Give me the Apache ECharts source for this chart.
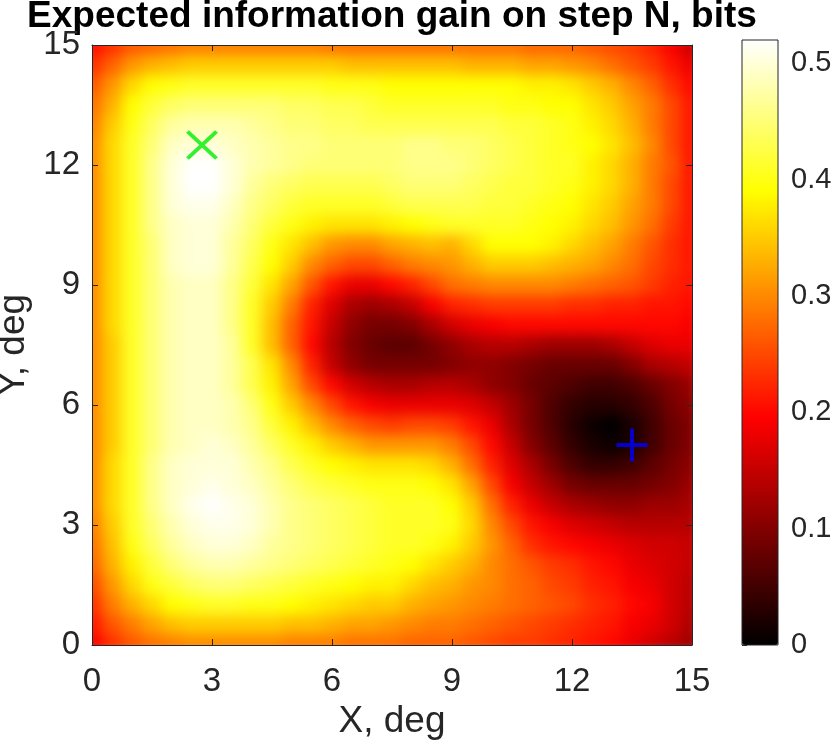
<!DOCTYPE html>
<html>
<head>
<meta charset="utf-8">
<title>Expected information gain</title>
<script src="https://cdn.jsdelivr.net/npm/echarts@6/dist/echarts.min.js"></script>
<style>
	html, body { margin: 0; padding: 0; background: #fff; }
	#chart { width: 836px; height: 746px; }
</style>
</head>
<body>
<div id="chart"></div>
<script>
	// grid nodes, 0..15 deg every 0.5 deg
	var xCats = [];
	var yCats = [];
	for (var k = 0; k <= 30; k++) {
		xCats.push(String(k / 2));
		yCats.push(String(k / 2));
	}

	// expected gain, bits. one row per Y, from Y=15 (top) down to Y=0; columns X=0..15
	var gainRows = [
		[0.20,0.23,0.26,0.27,0.28, 0.29,0.29,0.29,0.29,0.29, 0.29,0.29,0.28,0.28,0.28, 0.28,0.28,0.28,0.28,0.28, 0.28,0.28,0.27,0.27,0.27, 0.26,0.25,0.24,0.22,0.19, 0.15], // 15
		[0.23,0.27,0.31,0.33,0.34, 0.35,0.35,0.35,0.35,0.35, 0.35,0.35,0.35,0.34,0.34, 0.34,0.34,0.34,0.34,0.33, 0.33,0.33,0.32,0.32,0.31, 0.30,0.28,0.26,0.24,0.21, 0.18], // 14.5
		[0.26,0.31,0.36,0.39,0.40, 0.41,0.41,0.41,0.41,0.41, 0.41,0.41,0.40,0.40,0.40, 0.39,0.39,0.39,0.39,0.39, 0.39,0.39,0.38,0.38,0.37, 0.35,0.33,0.30,0.27,0.23, 0.20], // 14
		[0.28,0.33,0.39,0.42,0.44, 0.45,0.45,0.45,0.45,0.45, 0.44,0.44,0.43,0.43,0.42, 0.41,0.41,0.41,0.41,0.41, 0.41,0.40,0.40,0.39,0.39, 0.37,0.35,0.32,0.29,0.25, 0.21], // 13.5
		[0.29,0.35,0.40,0.44,0.47, 0.48,0.48,0.48,0.47,0.46, 0.45,0.45,0.44,0.44,0.43, 0.43,0.43,0.43,0.43,0.43, 0.43,0.42,0.42,0.41,0.40, 0.38,0.36,0.33,0.29,0.25, 0.21], // 13
		[0.30,0.36,0.41,0.45,0.49, 0.50,0.50,0.49,0.48,0.47, 0.46,0.46,0.45,0.45,0.45, 0.45,0.46,0.46,0.45,0.45, 0.44,0.43,0.42,0.41,0.40, 0.39,0.37,0.34,0.30,0.25, 0.21], // 12.5
		[0.30,0.36,0.41,0.46,0.50, 0.52,0.52,0.50,0.48,0.47, 0.46,0.45,0.45,0.45,0.45, 0.45,0.46,0.46,0.46,0.45, 0.44,0.43,0.42,0.41,0.41, 0.38,0.36,0.33,0.29,0.26, 0.21], // 12
		[0.30,0.36,0.41,0.46,0.50, 0.52,0.52,0.50,0.47,0.45, 0.44,0.43,0.43,0.43,0.43, 0.44,0.45,0.45,0.45,0.44, 0.43,0.42,0.42,0.41,0.40, 0.38,0.36,0.33,0.29,0.25, 0.21], // 11.5
		[0.30,0.36,0.41,0.46,0.50, 0.51,0.51,0.49,0.46,0.44, 0.42,0.41,0.41,0.41,0.41, 0.42,0.43,0.43,0.43,0.43, 0.42,0.42,0.41,0.40,0.39, 0.37,0.35,0.32,0.29,0.25, 0.21], // 11
		[0.30,0.36,0.41,0.46,0.49, 0.50,0.50,0.48,0.45,0.42, 0.40,0.38,0.37,0.37,0.37, 0.38,0.39,0.40,0.41,0.41, 0.41,0.41,0.40,0.39,0.38, 0.36,0.34,0.31,0.28,0.24, 0.21], // 10.5
		[0.30,0.36,0.41,0.45,0.49, 0.50,0.50,0.47,0.44,0.40, 0.37,0.34,0.31,0.30,0.30, 0.32,0.33,0.34,0.33,0.36, 0.39,0.39,0.39,0.38,0.36, 0.34,0.32,0.29,0.26,0.23, 0.21], // 10
		[0.30,0.36,0.41,0.45,0.49, 0.50,0.50,0.47,0.43,0.39, 0.35,0.30,0.27,0.25,0.25, 0.27,0.29,0.30,0.31,0.33, 0.35,0.35,0.35,0.34,0.33, 0.32,0.30,0.28,0.25,0.23, 0.21], // 9.5
		[0.30,0.36,0.41,0.45,0.48, 0.49,0.49,0.46,0.42,0.37, 0.32,0.26,0.21,0.18,0.18, 0.20,0.22,0.25,0.28,0.29, 0.30,0.30,0.30,0.30,0.29, 0.28,0.27,0.26,0.24,0.22, 0.21], // 9
		[0.30,0.36,0.41,0.45,0.48, 0.49,0.49,0.46,0.41,0.35, 0.29,0.22,0.17,0.13,0.12, 0.13,0.15,0.19,0.22,0.23, 0.24,0.24,0.24,0.24,0.23, 0.23,0.22,0.22,0.21,0.21, 0.20], // 8.5
		[0.30,0.36,0.41,0.45,0.48, 0.49,0.49,0.46,0.41,0.34, 0.27,0.21,0.15,0.11,0.09, 0.09,0.10,0.13,0.16,0.18, 0.19,0.20,0.20,0.20,0.20, 0.20,0.20,0.20,0.20,0.20, 0.19], // 8
		[0.30,0.35,0.41,0.45,0.48, 0.49,0.49,0.47,0.41,0.34, 0.27,0.20,0.14,0.10,0.08, 0.07,0.07,0.09,0.11,0.13, 0.14,0.14,0.13,0.12,0.12, 0.12,0.13,0.15,0.17,0.18, 0.18], // 7.5
		[0.30,0.35,0.41,0.45,0.48, 0.49,0.49,0.47,0.43,0.37, 0.30,0.22,0.15,0.11,0.09, 0.09,0.09,0.09,0.10,0.11, 0.11,0.10,0.09,0.08,0.08, 0.08,0.08,0.10,0.13,0.14, 0.15], // 7
		[0.30,0.35,0.41,0.45,0.48, 0.49,0.49,0.47,0.43,0.38, 0.32,0.25,0.20,0.16,0.14, 0.13,0.13,0.14,0.14,0.13, 0.11,0.10,0.08,0.07,0.06, 0.05,0.05,0.06,0.08,0.10, 0.12], // 6.5
		[0.30,0.35,0.41,0.45,0.48, 0.49,0.49,0.48,0.45,0.40, 0.35,0.30,0.25,0.21,0.19, 0.18,0.18,0.18,0.18,0.17, 0.15,0.12,0.09,0.06,0.04, 0.03,0.03,0.04,0.06,0.09, 0.11], // 6
		[0.30,0.35,0.41,0.45,0.48, 0.49,0.49,0.48,0.46,0.42, 0.38,0.34,0.30,0.27,0.25, 0.24,0.25,0.25,0.24,0.21, 0.18,0.13,0.09,0.06,0.03, 0.01,0.00,0.02,0.05,0.08, 0.10], // 5.5
		[0.30,0.35,0.41,0.45,0.48, 0.49,0.50,0.49,0.47,0.44, 0.41,0.38,0.35,0.33,0.31, 0.31,0.31,0.31,0.29,0.25, 0.20,0.15,0.10,0.07,0.04, 0.02,0.01,0.02,0.05,0.08, 0.10], // 5
		[0.30,0.36,0.41,0.46,0.49, 0.50,0.50,0.50,0.48,0.46, 0.43,0.41,0.39,0.38,0.37, 0.37,0.37,0.36,0.33,0.28, 0.22,0.17,0.13,0.09,0.06, 0.04,0.04,0.05,0.07,0.09, 0.11], // 4.5
		[0.30,0.36,0.41,0.46,0.49, 0.50,0.51,0.50,0.49,0.47, 0.45,0.43,0.42,0.41,0.40, 0.40,0.40,0.39,0.37,0.32, 0.25,0.19,0.15,0.12,0.09, 0.08,0.08,0.08,0.09,0.10, 0.12], // 4
		[0.30,0.36,0.41,0.46,0.49, 0.51,0.52,0.51,0.50,0.48, 0.46,0.45,0.44,0.43,0.42, 0.41,0.41,0.41,0.39,0.35, 0.28,0.22,0.18,0.15,0.13, 0.12,0.11,0.11,0.12,0.12, 0.13], // 3.5
		[0.29,0.35,0.41,0.45,0.48, 0.50,0.51,0.51,0.50,0.48, 0.46,0.45,0.44,0.43,0.42, 0.41,0.41,0.41,0.40,0.36, 0.30,0.25,0.21,0.19,0.17, 0.16,0.15,0.14,0.14,0.14, 0.14], // 3
		[0.28,0.34,0.40,0.44,0.47, 0.49,0.50,0.50,0.49,0.47, 0.46,0.45,0.44,0.43,0.42, 0.41,0.41,0.40,0.38,0.35, 0.31,0.27,0.23,0.21,0.20, 0.19,0.18,0.17,0.16,0.16, 0.15], // 2.5
		[0.27,0.33,0.38,0.42,0.45, 0.47,0.48,0.48,0.47,0.46, 0.45,0.44,0.43,0.42,0.41, 0.40,0.39,0.37,0.35,0.33, 0.30,0.28,0.26,0.24,0.23, 0.21,0.20,0.18,0.17,0.16, 0.15], // 2
		[0.25,0.31,0.36,0.40,0.42, 0.44,0.45,0.45,0.44,0.43, 0.42,0.41,0.40,0.39,0.38, 0.38,0.36,0.34,0.33,0.31, 0.30,0.28,0.27,0.25,0.24, 0.22,0.21,0.19,0.18,0.16, 0.14], // 1.5
		[0.23,0.29,0.33,0.36,0.39, 0.40,0.41,0.41,0.40,0.40, 0.39,0.38,0.37,0.36,0.35, 0.35,0.33,0.32,0.31,0.30, 0.29,0.28,0.27,0.26,0.25, 0.23,0.22,0.20,0.19,0.16, 0.14], // 1
		[0.21,0.26,0.29,0.32,0.34, 0.35,0.35,0.35,0.35,0.35, 0.34,0.34,0.33,0.32,0.32, 0.31,0.30,0.29,0.29,0.28, 0.27,0.26,0.25,0.24,0.23, 0.22,0.21,0.19,0.18,0.16, 0.13], // 0.5
		[0.19,0.23,0.26,0.28,0.29, 0.30,0.30,0.30,0.30,0.30, 0.29,0.29,0.29,0.28,0.28, 0.28,0.27,0.27,0.27,0.26, 0.25,0.24,0.24,0.23,0.22, 0.21,0.20,0.18,0.16,0.14, 0.12]  // 0
	];

	// markers (deg)
	var bestPoint = [2.75, 12.5];   // green x
	var probePoint = [13.5, 5.0];   // blue +

	var xTicks = [0, 3, 6, 9, 12, 15];
	var yTicks = [0, 3, 6, 9, 12, 15];
	var barTicks = [0, 0.1, 0.2, 0.3, 0.4, 0.5];
	var gainMax = 0.52;

	// matlab 'hot', evenly spaced stops
	var hotColors = ['#000000', '#550000', '#aa0000', '#ff0000', '#ff5500', '#ffaa00', '#ffff00', '#ffff80', '#ffffff'];

	var fontName = "'Liberation Sans', Arial, Helvetica, sans-serif";
	var axisColor = '#262626';

	var heatData = [];
	for (var r = 0; r < gainRows.length; r++) {
		var yi = gainRows.length - 1 - r;
		for (var c = 0; c < gainRows[r].length; c++) {
			heatData.push([c, yi, gainRows[r][c]]);
		}
	}

	function frameAxis(pos, showLabel, ticks) {
		return {
			type: 'value',
			gridIndex: 0,
			position: pos,
			min: ticks[0],
			max: ticks[ticks.length - 1],
			interval: ticks[1] - ticks[0],
			z: 10,
			axisLine: { show: true, onZero: false, lineStyle: { color: axisColor, width: 1 } },
			axisTick: { show: true, inside: true, length: 6, lineStyle: { color: axisColor } },
			axisLabel: { show: showLabel, fontSize: 33, color: axisColor, fontFamily: fontName },
			splitLine: { show: false }
		};
	}

	var xBottom = frameAxis('bottom', true, xTicks);
	xBottom.axisLabel.margin = 20;
	xBottom.name = 'X, deg';
	xBottom.nameLocation = 'middle';
	xBottom.nameGap = 55;
	xBottom.nameTextStyle = { fontSize: 37, color: axisColor, fontFamily: fontName };

	var yLeft = frameAxis('left', true, yTicks);
	yLeft.axisLabel.margin = 12;
	yLeft.name = 'Y, deg';
	yLeft.nameLocation = 'middle';
	yLeft.nameRotate = 90;
	yLeft.nameGap = 55;
	yLeft.nameTextStyle = { fontSize: 37, color: axisColor, fontFamily: fontName };

	var chart = echarts.init(document.getElementById('chart'), null, { renderer: 'canvas' });
	var option = {
		backgroundColor: '#ffffff',
		animation: false,
		title: {
			text: 'Expected information gain on step N, bits',
			left: 392,
			top: -2,
			textAlign: 'center',
			padding: 0,
			textStyle: { fontSize: 37, fontWeight: 'bold', color: '#000', fontFamily: fontName }
		},
		grid: [
			{ left: 92, top: 45, width: 600, height: 600, outerBoundsMode: 'none', containLabel: false },
			{ left: 742, top: 40, width: 36, height: 605, outerBoundsMode: 'none', containLabel: false, show: true, z: 10, backgroundColor: 'transparent', borderColor: axisColor, borderWidth: 1 },
			// cells centred on the 0.5 deg nodes: half a cell past each frame edge
			{ left: 82, top: 35, width: 620, height: 620, outerBoundsMode: 'none', containLabel: false }
		],
		xAxis: [
			{ type: 'category', gridIndex: 2, position: 'bottom', data: xCats, show: false },
			xBottom,
			frameAxis('top', false, xTicks),
			{ type: 'value', gridIndex: 1, show: false, min: 0, max: 1 }
		],
		yAxis: [
			{ type: 'category', gridIndex: 2, position: 'left', data: yCats, show: false },
			yLeft,
			frameAxis('right', false, yTicks),
			{
				type: 'value',
				gridIndex: 1,
				position: 'right',
				min: 0,
				max: gainMax,
				interval: barTicks[1] - barTicks[0],
				axisLine: { show: false },
				axisTick: { show: true, inside: false, length: 5, lineStyle: { color: axisColor } },
				axisLabel: {
					fontSize: 29, color: axisColor, fontFamily: fontName, margin: 13,
					formatter: function (v) {
						return v === 0 ? '0' : v.toFixed(1);
					}
				},
				splitLine: { show: false }
			}
		],
		visualMap: {
			type: 'continuous',
			seriesIndex: 0,
			min: 0,
			max: gainMax,
			calculable: false,
			hoverLink: false,
			orient: 'vertical',
			left: 742,
			top: 40,
			padding: 0,
			itemWidth: 36,
			itemHeight: 605,
			inRange: { color: hotColors }
		},
		series: [
			{
				type: 'heatmap',
				xAxisIndex: 0,
				yAxisIndex: 0,
				zlevel: -1,
				data: heatData,
				progressive: 0,
				emphasis: { disabled: true }
			},
			{
				type: 'scatter',
				xAxisIndex: 1,
				yAxisIndex: 1,
				z: 5,
				data: [bestPoint],
				symbol: 'path://M0,0L10,10M10,0L0,10',
				symbolSize: [29, 27],
				symbolKeepAspect: false,
				itemStyle: { color: '#00ee00', borderColor: '#00ee00', borderWidth: 4 },
				silent: true
			},
			{
				type: 'scatter',
				xAxisIndex: 1,
				yAxisIndex: 1,
				z: 5,
				data: [probePoint],
				symbol: 'path://M5,0L5,10M0,5L10,5',
				symbolSize: [31, 33],
				symbolKeepAspect: false,
				itemStyle: { color: '#0000ff', borderColor: '#0000ff', borderWidth: 4 },
				silent: true
			}
		]
	};
	chart.setOption(option);

	// shaded like matlab 'interp': soften the cell layer, keep it inside the frame
	var layer = document.querySelector('#chart canvas[data-zr-dom-id="zr_-1"]') || document.querySelectorAll('#chart canvas')[0];
	if (layer) {
		layer.style.filter = 'blur(6.5px)';
		layer.style.clipPath = 'inset(45px 144px 101px 92px)';
	}
</script>
</body>
</html>
